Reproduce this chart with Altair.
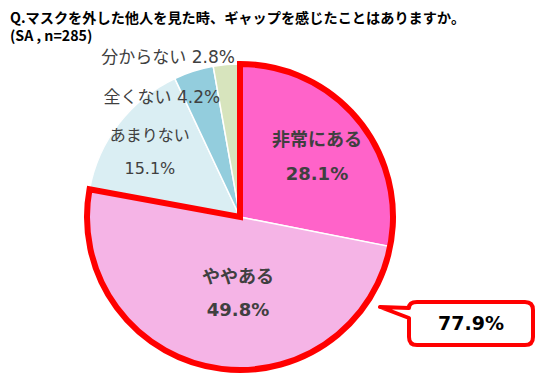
import altair as alt
import pandas as pd

# ---- data ----
categories = ["非常にある", "ややある", "あまりない", "全くない", "分からない"]
values = [28.1, 49.8, 15.1, 4.2, 2.8]
colors = ["#FF63C9", "#F5B4E6", "#DAEEF3", "#93CDDD", "#D7E4BD"]
highlight_count = 2          # first two slices are outlined together
highlight_label = ["77.9%"]
title_lines = ["Q.マスクを外した他人を見た時、ギャップを感じたことはありますか。", "(SA , n=285)"]

FONT = "Noto Sans CJK JP"
LFONT = "DejaVu Sans, Noto Sans CJK JP"
TXT = "#404040"
R = 153

df = pd.DataFrame({"category": categories, "value": values,
                   "order": list(range(len(categories)))})

theta_scale = alt.Scale(domain=[0, 100])
color_scale = alt.Scale(domain=categories, range=colors)

base = (
    alt.Chart(df)
    .transform_window(cum="sum(value)", sort=[alt.SortField("order")])
    .transform_calculate(
        start="datum.cum - datum.value",
        mid="datum.cum - datum.value / 2",
        pct="format(datum.value, '.1f') + '%'",
        inline="datum.category + '   ' + format(datum.value, '.1f') + '%'",
    )
)

pie = base.mark_arc(radius=R, stroke="white", strokeWidth=1.5).encode(
    theta=alt.Theta("start:Q", scale=theta_scale),
    theta2="cum:Q",
    color=alt.Color("category:N", scale=color_scale, legend=None),
)

outline = (
    base.transform_filter(f"datum.order < {highlight_count}")
    .transform_aggregate(s="min(start)", e="max(cum)")
    .mark_arc(radius=R, fillOpacity=0, stroke="#FF0000", strokeWidth=6,
              strokeJoin="miter")
    .encode(theta=alt.Theta("s:Q", scale=theta_scale), theta2="e:Q")
)

# label placement styles (radius / offsets per slice)
styles = {
    "非常にある": dict(r=97, dx=2, dys=(-14, 20), size=18, bold=True, two=True),
    "ややある": dict(r=80, dx=13, dys=(-18, 15), size=18, bold=True, two=True),
    "あまりない": dict(r=110, dx=-3, dys=(-14, 19), size=16, bold=False, two=True),
    "全くない": dict(r=125, dx=18, dys=(0,), size=17, bold=False, two=False),
    "分からない": dict(r=160, dx=9, dys=(0,), size=17, bold=False, two=False),
}

texts = []
for cat in categories:
    st = styles[cat]
    filt = base.transform_filter(alt.datum.category == cat)
    common = dict(radius=st["r"], dx=st["dx"], fontSize=st["size"], font=LFONT,
                  fontWeight="bold" if st["bold"] else "normal", color=TXT)
    if st["two"]:
        for field, dy in zip(["category", "pct"], st["dys"]):
            texts.append(
                filt.mark_text(dy=dy, align="center", **common).encode(
                    theta=alt.Theta("mid:Q", scale=theta_scale),
                    text=alt.Text(f"{field}:N"),
                )
            )
    else:
        texts.append(
            filt.mark_text(dy=st["dys"][0], align="right", **common).encode(
                theta=alt.Theta("mid:Q", scale=theta_scale),
                text=alt.Text("inline:N"),
            )
        )

# callout bubble (path in pixels, scale factor 1 with size=4)
bubble_path = ("M -76 -16 L -47 -15 Q -47 -21 -39 -21 L 69 -21 Q 77 -21 77 -13 "
               "L 77 14 Q 77 22 69 22 L -39 22 Q -47 22 -47 14 L -47 -5 Z")
call_df = pd.DataFrame({"label": highlight_label})
bubble = alt.Chart(call_df).mark_point(
    shape=bubble_path, size=4, filled=True, fill="white", stroke="#FF0000",
    strokeWidth=4, opacity=1, fillOpacity=1, strokeOpacity=1, strokeJoin="round"
).encode(x=alt.value(446), y=alt.value(265))

call_text = alt.Chart(call_df).mark_text(
    fontSize=19, fontWeight="bold", font="DejaVu Sans", color="#000000", align="center"
).encode(x=alt.value(461), y=alt.value(266), text="label:N")

chart = (
    alt.layer(pie, outline, *texts, bubble, call_text)
    .properties(
        width=460,
        height=318,
        padding={"left": 2, "top": 50, "right": 68, "bottom": 0},
        autosize=alt.AutoSizeParams(type="none"),
        background="white",
        title=alt.TitleParams(
            title_lines, anchor="start", frame="group", fontSize=14.2,
            font=FONT, fontWeight="bold", color="#000000", offset=4,
            lineHeight=18,
        ),
    )
    .configure_view(stroke=None)
)

chart.save("out.html", embed_options={"renderer": "svg", "actions": False})
